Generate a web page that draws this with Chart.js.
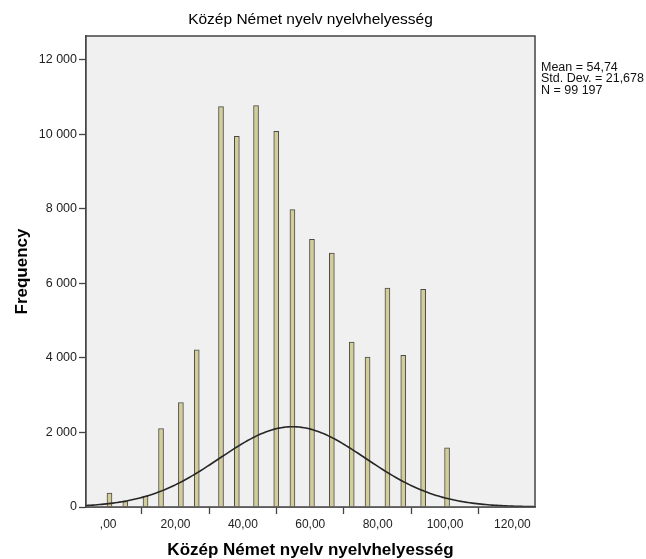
<!DOCTYPE html>
<html>
<head>
<meta charset="utf-8">
<script src="https://cdn.jsdelivr.net/npm/chart.js@4/dist/chart.umd.min.js"></script>
<style>
  html, body { margin: 0; padding: 0; background: #ffffff; }
  #wrap { width: 646px; height: 559px; position: relative; }
</style>
</head>
<body>
<div id="wrap"><canvas id="hist" width="646" height="559"></canvas></div>
<script>
// Histogram of the score variable: bin centres and frequencies
const binCenters = [0.4, 5.1, 11.1, 15.7, 21.6, 26.3, 33.5, 38.2, 43.9, 49.9, 54.7, 60.5, 66.4, 72.3, 77.0, 82.9, 87.6, 93.5, 100.6];
const frequencies = [376, 145, 296, 2106, 2804, 4215, 10745, 9950, 10772, 10084, 7980, 7183, 6815, 4424, 4021, 5875, 4067, 5840, 1585];

// Axis tick values and their labels
const xTickValues = [0, 20, 40, 60, 80, 100, 120];
const xTickLabels = [',00', '20,00', '40,00', '60,00', '80,00', '100,00', '120,00'];
const yTickValues = [0, 2000, 4000, 6000, 8000, 10000, 12000];
const yTickLabels = ['0', '2 000', '4 000', '6 000', '8 000', '10 000', '12 000'];

// Summary statistics shown beside the plot; the normal curve uses them
const statMean = 54.74;
const statSD = 21.678;
const statN = 99197;
const statLabels = ['Mean = 54,74', 'Std. Dev. = 21,678', 'N = 99 197'];
const binWidth = 1.18;

const titleText = 'Közép Német nyelv nyelvhelyesség';
const xTitle = 'Közép Német nyelv nyelvhelyesség';
const yTitle = 'Frequency';

const X_MIN = -6.57, X_MAX = 126.7;
const Y_MIN = 0, Y_MAX = 12640;

// Fitted normal curve scaled to counts per bin
const curvePoints = [];
for (let i = 0; i <= 200; i++) {
  const x = X_MIN + (X_MAX - X_MIN) * i / 200;
  const z = (x - statMean) / statSD;
  const y = statN * binWidth / (statSD * Math.sqrt(2 * Math.PI)) * Math.exp(-0.5 * z * z);
  curvePoints.push({ x: x, y: y });
}

const FONT = '"Liberation Sans", Arial, sans-serif';

const frame = {
  id: 'frame',
  beforeDatasetsDraw(chart) {
    const { ctx, chartArea: a } = chart;
    ctx.save();
    ctx.fillStyle = '#f0f0f0';
    ctx.fillRect(a.left, a.top, a.right - a.left, a.bottom - a.top);
    ctx.restore();
  },
  afterDraw(chart) {
    const { ctx, chartArea: a } = chart;
    ctx.save();
    ctx.strokeStyle = '#444444';
    ctx.lineWidth = 1.5;
    ctx.beginPath();
    ctx.moveTo(a.left, a.bottom);
    ctx.lineTo(a.left, a.top);
    ctx.lineTo(a.right, a.top);
    ctx.lineTo(a.right, a.bottom);
    ctx.lineTo(a.left, a.bottom);
    ctx.stroke();

    // Title above the plot
    ctx.fillStyle = '#000000';
    ctx.textAlign = 'center';
    ctx.textBaseline = 'middle';
    ctx.font = '15.5px ' + FONT;
    ctx.fillText(titleText, (a.left + a.right) / 2, 20);

    // Axis titles
    ctx.font = 'bold 17px ' + FONT;
    ctx.textBaseline = 'alphabetic';
    ctx.fillText(xTitle, (a.left + a.right) / 2, 555);
    ctx.save();
    ctx.translate(27, (a.top + a.bottom) / 2);
    ctx.rotate(-Math.PI / 2);
    ctx.fillText(yTitle, 0, 0);
    ctx.restore();

    // Statistics block
    ctx.font = '12.5px ' + FONT;
    ctx.textAlign = 'left';
    ctx.fillStyle = '#111111';
    statLabels.forEach((t, i) => ctx.fillText(t, a.right + 6, 70.5 + i * 11.5));
    ctx.restore();
  }
};

new Chart(document.getElementById('hist'), {
  type: 'bar',
  data: {
    datasets: [
      {
        type: 'line',
        data: curvePoints,
        borderColor: '#262626',
        borderWidth: 1.6,
        pointRadius: 0,
        tension: 0,
        fill: false,
        order: 0
      },
      {
        type: 'bar',
        data: binCenters.map((x, i) => ({ x: x, y: frequencies[i] })),
        backgroundColor: '#d3cd99',
        borderColor: '#4a4a4a',
        borderWidth: 1,
        barThickness: 5,
        order: 1
      }
    ]
  },
  plugins: [frame],
  options: {
    responsive: false,
    animation: false,
    layout: { padding: { left: 0, right: 111, top: 36, bottom: 0 } },
    plugins: { legend: { display: false }, tooltip: { enabled: false } },
    scales: {
      x: {
        type: 'linear',
        offset: false,
        min: X_MIN,
        max: X_MAX,
        afterBuildTicks(scale) { scale.ticks = xTickValues.map(v => ({ value: v })); },
        afterFit(scale) { scale.height = 52; },
        ticks: {
          includeBounds: false,
          autoSkip: false,
          maxRotation: 0,
          padding: 3,
          color: '#222222',
          font: { family: FONT, size: 12 },
          callback: (v) => xTickLabels[xTickValues.indexOf(v)]
        },
        grid: { drawOnChartArea: false, drawTicks: true, tickLength: 7, tickColor: '#444444', tickWidth: 1.3 },
        border: { display: true, color: '#444444', width: 1.5 }
      },
      y: {
        type: 'linear',
        min: Y_MIN,
        max: Y_MAX,
        afterBuildTicks(scale) { scale.ticks = yTickValues.map(v => ({ value: v })); },
        afterFit(scale) { scale.width = 86; },
        ticks: {
          includeBounds: false,
          padding: 2,
          color: '#222222',
          font: { family: FONT, size: 12.5 },
          callback: (v) => yTickLabels[yTickValues.indexOf(v)]
        },
        grid: { drawOnChartArea: false, drawTicks: true, tickLength: 7, tickColor: '#444444', tickWidth: 1.3 },
        border: { display: true, color: '#444444', width: 1.5 }
      }
    }
  }
});
</script>
</body>
</html>
